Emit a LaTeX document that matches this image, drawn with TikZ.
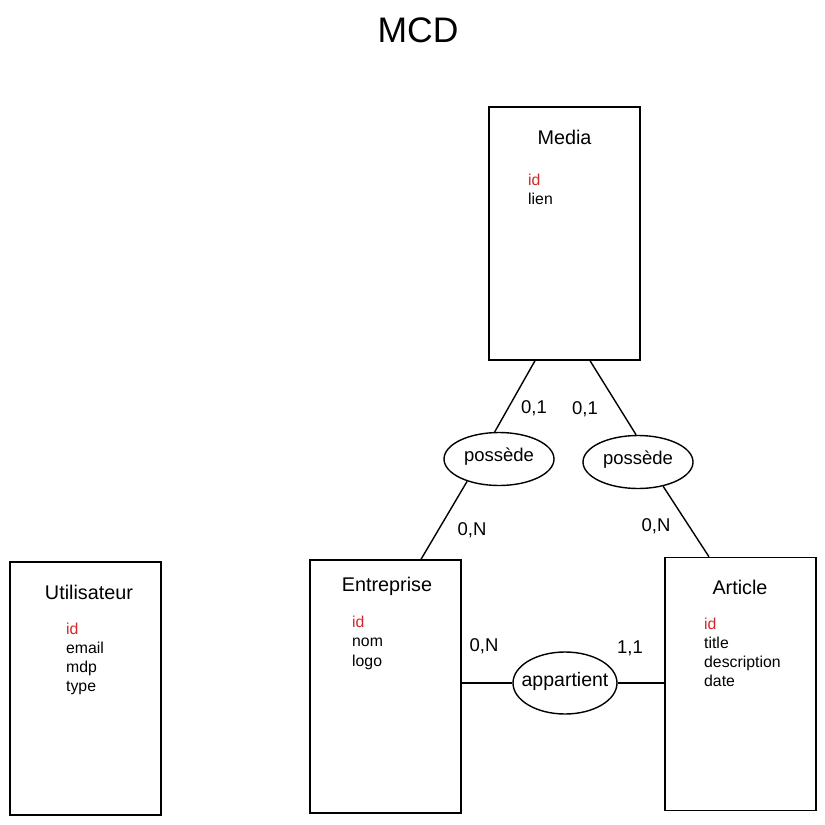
\documentclass[tikz,border=0pt]{standalone}
\usepackage{fontspec}
\setmainfont{Liberation Sans}
\usetikzlibrary{positioning,shapes.geometric}
\definecolor{idRed}{RGB}{210,40,40}
\tikzset{entityStyle/.style={
    draw=black,
    line width=1.4pt,
    minimum width=151pt,
    minimum height=253pt,
    inner sep=0pt}
}
\tikzset{assocStyle/.style={
    draw=black,
    ellipse,
    line width=1.4pt,
    inner sep=0pt,
    label={[font=\fontsize{18.5}{20}\selectfont,yshift=2pt]center:#1}}
}
\tikzset{linkStyle/.style={color=black,line width=1.4pt}}
\tikzset{cardStyle/.style={font=\fontsize{18.5}{20}\selectfont,inner sep=0pt}}
\tikzset{titleStyle/.style={font=\fontsize{19.8}{20}\selectfont,inner sep=0pt}}
\tikzset{attrStyle/.style={
    align=left,
    anchor=north west,
    inner sep=0pt,
    font=\fontsize{15.8}{19.2}\selectfont}
}

\begin{document}
\begin{tikzpicture}[x=1pt,y=-1pt]
      \useasboundingbox (0,0) rectangle (825,825);

      \node[font=\fontsize{35.5}{40}\selectfont] (mcd) at (418,30) {MCD};

      % entities
      \node[entityStyle] (media) at (564.5,233.5) {};
      \node[titleStyle] (mediaTitle) at (564.5,137) {Media};
      \node[attrStyle] (mediaAttr) at (528,174)
      {\textcolor{idRed}{id}\\lien};

      \node[entityStyle] (user) at (85.5,688.5) {};
      \node[titleStyle] (userTitle) at (89,592) {Utilisateur};
      \node[attrStyle] (userAttr) at (66,622.5)
      {\textcolor{idRed}{id}\\email\\mdp\\type};

      \node[entityStyle] (company) at (385.5,686.5) {};
      \node[titleStyle] (companyTitle) at (387,586) {Entreprise};
      \node[attrStyle] (companyAttr) at (352,616)
      {\textcolor{idRed}{id}\\nom\\logo};

      \node[entityStyle] (article) at (740.5,684) {};
      \node[titleStyle] (articleTitle) at (740,587) {Article};
      \node[attrStyle] (articleAttr) at (704,617.5)
      {\textcolor{idRed}{id}\\title\\description\\date};

      % associations
      \node[assocStyle=possède,minimum width=110pt,minimum height=53pt]
      (ownLeft) at (499,459) {};
      \node[assocStyle=possède,minimum width=110pt,minimum height=53pt]
      (ownRight) at (638,462) {};
      \node[assocStyle={\fontsize{19.5}{20}\selectfont appartient},
      minimum width=104pt,minimum height=62pt]
      (belongs) at (565,683) {};

      \draw[linkStyle] ([xshift=-29.5pt]media.south) -- (ownLeft.99);
      \draw[linkStyle] ([xshift=25.5pt]media.south) -- (ownRight.94);
      \draw[linkStyle] (ownLeft.215) -- ([xshift=35.5pt]company.north);
      \draw[linkStyle] (ownRight.316) -- ([xshift=-31.5pt]article.north);
      \draw[linkStyle] (company.east |- belongs.west) -- (belongs.west);
      \draw[linkStyle] (belongs.east) -- ([yshift=1pt]article.west);

      % cardinalities
      \node[cardStyle] (cardA) at (534,408) {0,1};
      \node[cardStyle] (cardB) at (585,409) {0,1};
      \node[cardStyle] (cardC) at (472,530) {0,N};
      \node[cardStyle] (cardD) at (656,526) {0,N};
      \node[cardStyle] (cardE) at (484,646) {0,N};
      \node[cardStyle] (cardF) at (630,648) {1,1};
\end{tikzpicture}
\end{document}
